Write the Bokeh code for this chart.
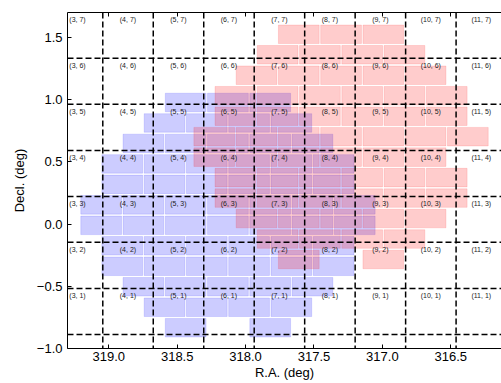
import numpy as np
from bokeh.plotting import figure
from bokeh.models import Range1d, Span, FixedTicker, LinearAxis, ColumnDataSource
from bokeh.embed import file_html
from bokeh.resources import INLINE
from bokeh.core.properties import value

# ---------------- data ----------------
# exposure pointings (deg)
exp_names = ["blue", "red"]
exp_ra = [318.129, 317.302]
exp_dec = [0.072, 0.620]
exp_colors = ["blue", "red"]

# DECam CCD layout: row offsets (row pitches, + = up) and column offsets (chip pitches, + = right)
ccd_rows = [5.5, 4.5, 3.5, 2.5, 1.5, 0.5, -0.5, -1.5, -2.5, -3.5, -4.5, -5.5]
ccd_cols = [
    [-1, 0, 1],
    [-1.5, -0.5, 0.5, 1.5],
    [-2, -1, 0, 1, 2],
    [-2.5, -1.5, -0.5, 0.5, 1.5, 2.5],
    [-2.5, -1.5, -0.5, 0.5, 1.5, 2.5],
    [-3, -2, -1, 0, 1, 2, 3],
    [-3, -2, -1, 0, 1, 2, 3],
    [-2.5, -1.5, -0.5, 0.5, 1.5, 2.5],
    [-2.5, -1.5, -0.5, 0.5, 1.5, 2.5],
    [-2, -1, 0, 1, 2],
    [-1.5, -0.5, 0.5, 1.5],
    [-1, 0, 1],
]
# CCDs with no data, per exposure: (row offset, column offset)
ccd_missing = {
    "blue": [(-5.5, 0)],
    "red": [(-5.5, 0), (-0.5, 3)],
}

# sky tiling grid (deg)
tile_ra_edges = [319.044, 318.675, 318.306, 317.937, 317.568, 317.199, 316.830, 316.461]
tile_dec_edges = [-0.888, -0.517, -0.147, 0.222, 0.592, 0.962, 1.333]
tile_i = [3, 4, 5, 6, 7, 8, 9, 10, 11]
tile_ra_center = [319.229, 318.860, 318.491, 318.122, 317.753, 317.384, 317.015, 316.646, 316.277]
tile_j = [1, 2, 3, 4, 5, 6, 7]
tile_dec_top = [-0.517, -0.147, 0.222, 0.592, 0.962, 1.333, 1.703]

x_ticks = [319.0, 318.5, 318.0, 317.5, 317.0, 316.5]
x_tick_labels = ["319.0", "318.5", "318.0", "317.5", "317.0", "316.5"]
y_ticks = [-1.0, -0.5, 0.0, 0.5, 1.0, 1.5]
y_tick_labels = ["\u22121.0", "\u22120.5", "0.0", "0.5", "1.0", "1.5"]

# ---------------- geometry / style ----------------
CHIP_W, CHIP_H = 0.298, 0.149
PITCH_X, PITCH_Y = 0.309, 0.1645
FONT = "Liberation Sans"

p = figure(width=501, height=383, output_backend="svg", toolbar_location=None,
           x_range=Range1d(319.302, 316.129), y_range=Range1d(-1.0, 1.7),
           min_border_left=67, min_border_right=0, min_border_top=12, min_border_bottom=35)
p.grid.visible = False
p.outline_line_color = None
p.background_fill_color = "white"

for name, ra0, dec0, col in zip(exp_names, exp_ra, exp_dec, exp_colors):
    xs, ys = [], []
    for r, cols in zip(ccd_rows, ccd_cols):
        for c in cols:
            if (r, c) in ccd_missing[name]:
                continue
            xs.append(ra0 - c * PITCH_X)
            ys.append(dec0 + r * PITCH_Y)
    src = ColumnDataSource(dict(x=xs, y=ys))
    p.rect(x="x", y="y", width=CHIP_W, height=CHIP_H, source=src,
           fill_color=col, fill_alpha=0.2, line_color=col, line_alpha=0.12, line_width=1)

for ra in tile_ra_edges:
    p.add_layout(Span(location=ra, dimension="height", line_color="black",
                      line_width=1.5, line_dash="6 3"))
for dec in tile_dec_edges:
    p.add_layout(Span(location=dec, dimension="width", line_color="black",
                      line_width=1.5, line_dash="6 3"))

lx, ly, lt = [], [], []
for j, dtop in zip(tile_j, tile_dec_top):
    for i, rac in zip(tile_i, tile_ra_center):
        lx.append(rac)
        ly.append(dtop)
        lt.append(f"({i}, {j})")
p.text(x=lx, y=ly, text=lt, text_font=value(FONT), text_font_size="7px",
       text_color="#222222", text_align="center", text_baseline="middle", y_offset=7)

# axes
def style_axis(ax, ticks, labels, show_labels=True):
    ax.ticker = FixedTicker(ticks=ticks)
    ax.major_label_overrides = dict(zip(ticks, labels))
    ax.major_tick_in = 4
    ax.major_tick_out = 0
    ax.minor_tick_line_color = None
    ax.axis_line_color = "black"
    ax.major_tick_line_color = "black"
    ax.major_label_text_font = FONT
    ax.major_label_text_font_size = "13px" if show_labels else "0px"
    ax.major_label_text_color = "black"
    ax.axis_label_text_font = FONT
    ax.axis_label_text_font_size = "13px"
    ax.axis_label_text_font_style = "normal"
    ax.axis_label_text_color = "black"

style_axis(p.xaxis[0], x_ticks, x_tick_labels)
p.xaxis[0].axis_label = "R.A. (deg)"
p.xaxis[0].major_label_standoff = 3
p.xaxis[0].axis_label_standoff = 1
style_axis(p.yaxis[0], y_ticks, y_tick_labels)
p.yaxis[0].axis_label = "Decl. (deg)"
p.yaxis[0].major_label_standoff = 5
p.yaxis[0].axis_label_standoff = 7

top = LinearAxis()
style_axis(top, x_ticks, ["" for _ in x_ticks], show_labels=False)
top.major_label_standoff = 0
p.add_layout(top, "above")

open("out.html", "w").write(file_html(p, INLINE))
